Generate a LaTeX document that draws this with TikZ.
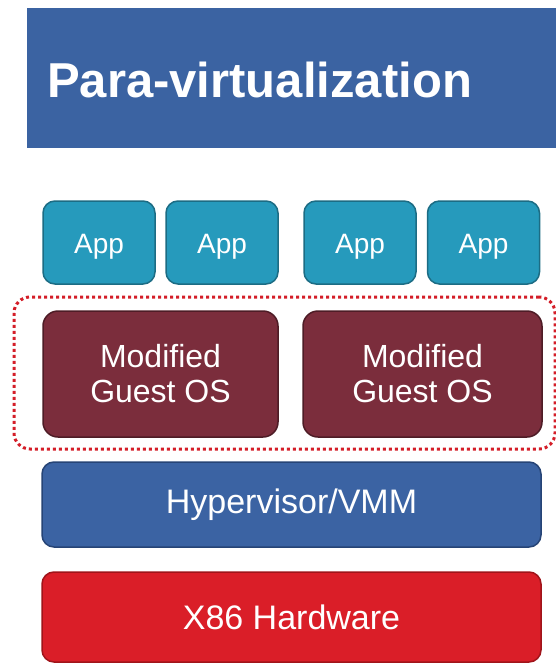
\documentclass[tikz,border=0pt]{standalone}
\usepackage{fontspec}
\setmainfont{Liberation Sans}
\definecolor{titleblue}{RGB}{59,99,162}
\definecolor{appteal}{RGB}{38,154,188}
\definecolor{appedge}{RGB}{28,108,132}
\definecolor{osred}{RGB}{123,45,60}
\definecolor{osedge}{RGB}{78,28,38}
\definecolor{hvblue}{RGB}{59,99,163}
\definecolor{hvedge}{RGB}{38,68,118}
\definecolor{hwred}{RGB}{218,30,40}
\definecolor{hwedge}{RGB}{160,20,26}
\definecolor{dotred}{RGB}{212,30,40}
\tikzset{
  layer/.style={rectangle, rounded corners=12pt, inner sep=0pt, line width=1.5pt,
    text=white, align=center},
  appbox/.style={layer, fill=appteal, draw=appedge, minimum width=112pt, minimum height=83pt},
  applabel/.style={anchor=base, text=white, inner sep=0pt, font=\fontsize{28}{30}\selectfont},
  osbox/.style={layer, fill=osred, draw=osedge, rounded corners=15pt, minimum height=126pt,
    font=\fontsize{32}{35}\selectfont},
  hvbox/.style={layer, fill=hvblue, draw=hvedge, minimum width=499pt, minimum height=85pt,
    font=\fontsize{34}{38}\selectfont},
  hwbox/.style={layer, fill=hwred, draw=hwedge, minimum width=499pt, minimum height=90pt,
    font=\fontsize{34}{38}\selectfont},
  groupline/.style={draw=dotred, line width=3pt, dash pattern=on 3pt off 3pt,
    rounded corners=16pt}
}
\begin{document}
\begin{tikzpicture}[x=1pt,y=-1pt]
  \useasboundingbox (0,0) rectangle (556,667);
  \fill[white] (0,0) rectangle (556,667);
  % heading banner
  \node[rectangle, fill=titleblue, inner sep=0pt, minimum width=529pt, minimum height=140pt]
    (banner) at (291.5,78) {};
  \node[anchor=base west, inner sep=0pt, text=white, font=\bfseries\fontsize{49}{52}\selectfont]
    (title) at (47,97) {Para-virtualization};
  % applications
  \node[appbox] (app1) at (99,242.5) {};
  \node[appbox] (app2) at (222,242.5) {};
  \node[appbox] (app3) at (360,242.5) {};
  \node[appbox] (app4) at (483.5,242.5) {};
  \foreach \a in {app1,app2,app3,app4}
    \node[applabel] (\a-label) at ([yshift=-11pt]\a.center) {App};
  % guest operating systems
  \node[osbox, minimum width=235pt] (os1) at (160.5,374) {Modified\\Guest OS};
  \node[osbox, minimum width=239pt] (os2) at (422.5,374) {Modified\\Guest OS};
  % dotted group around the guests
  \node[groupline, rectangle, minimum width=541pt, minimum height=152pt, inner sep=0pt]
    (group) at (284.5,373) {};
  % hypervisor and hardware
  \node[hvbox] (hv) at (291.5,504.5) {Hypervisor/VMM};
  \node[hwbox] (hw) at (291.5,617) {X86 Hardware};
\end{tikzpicture}
\end{document}
